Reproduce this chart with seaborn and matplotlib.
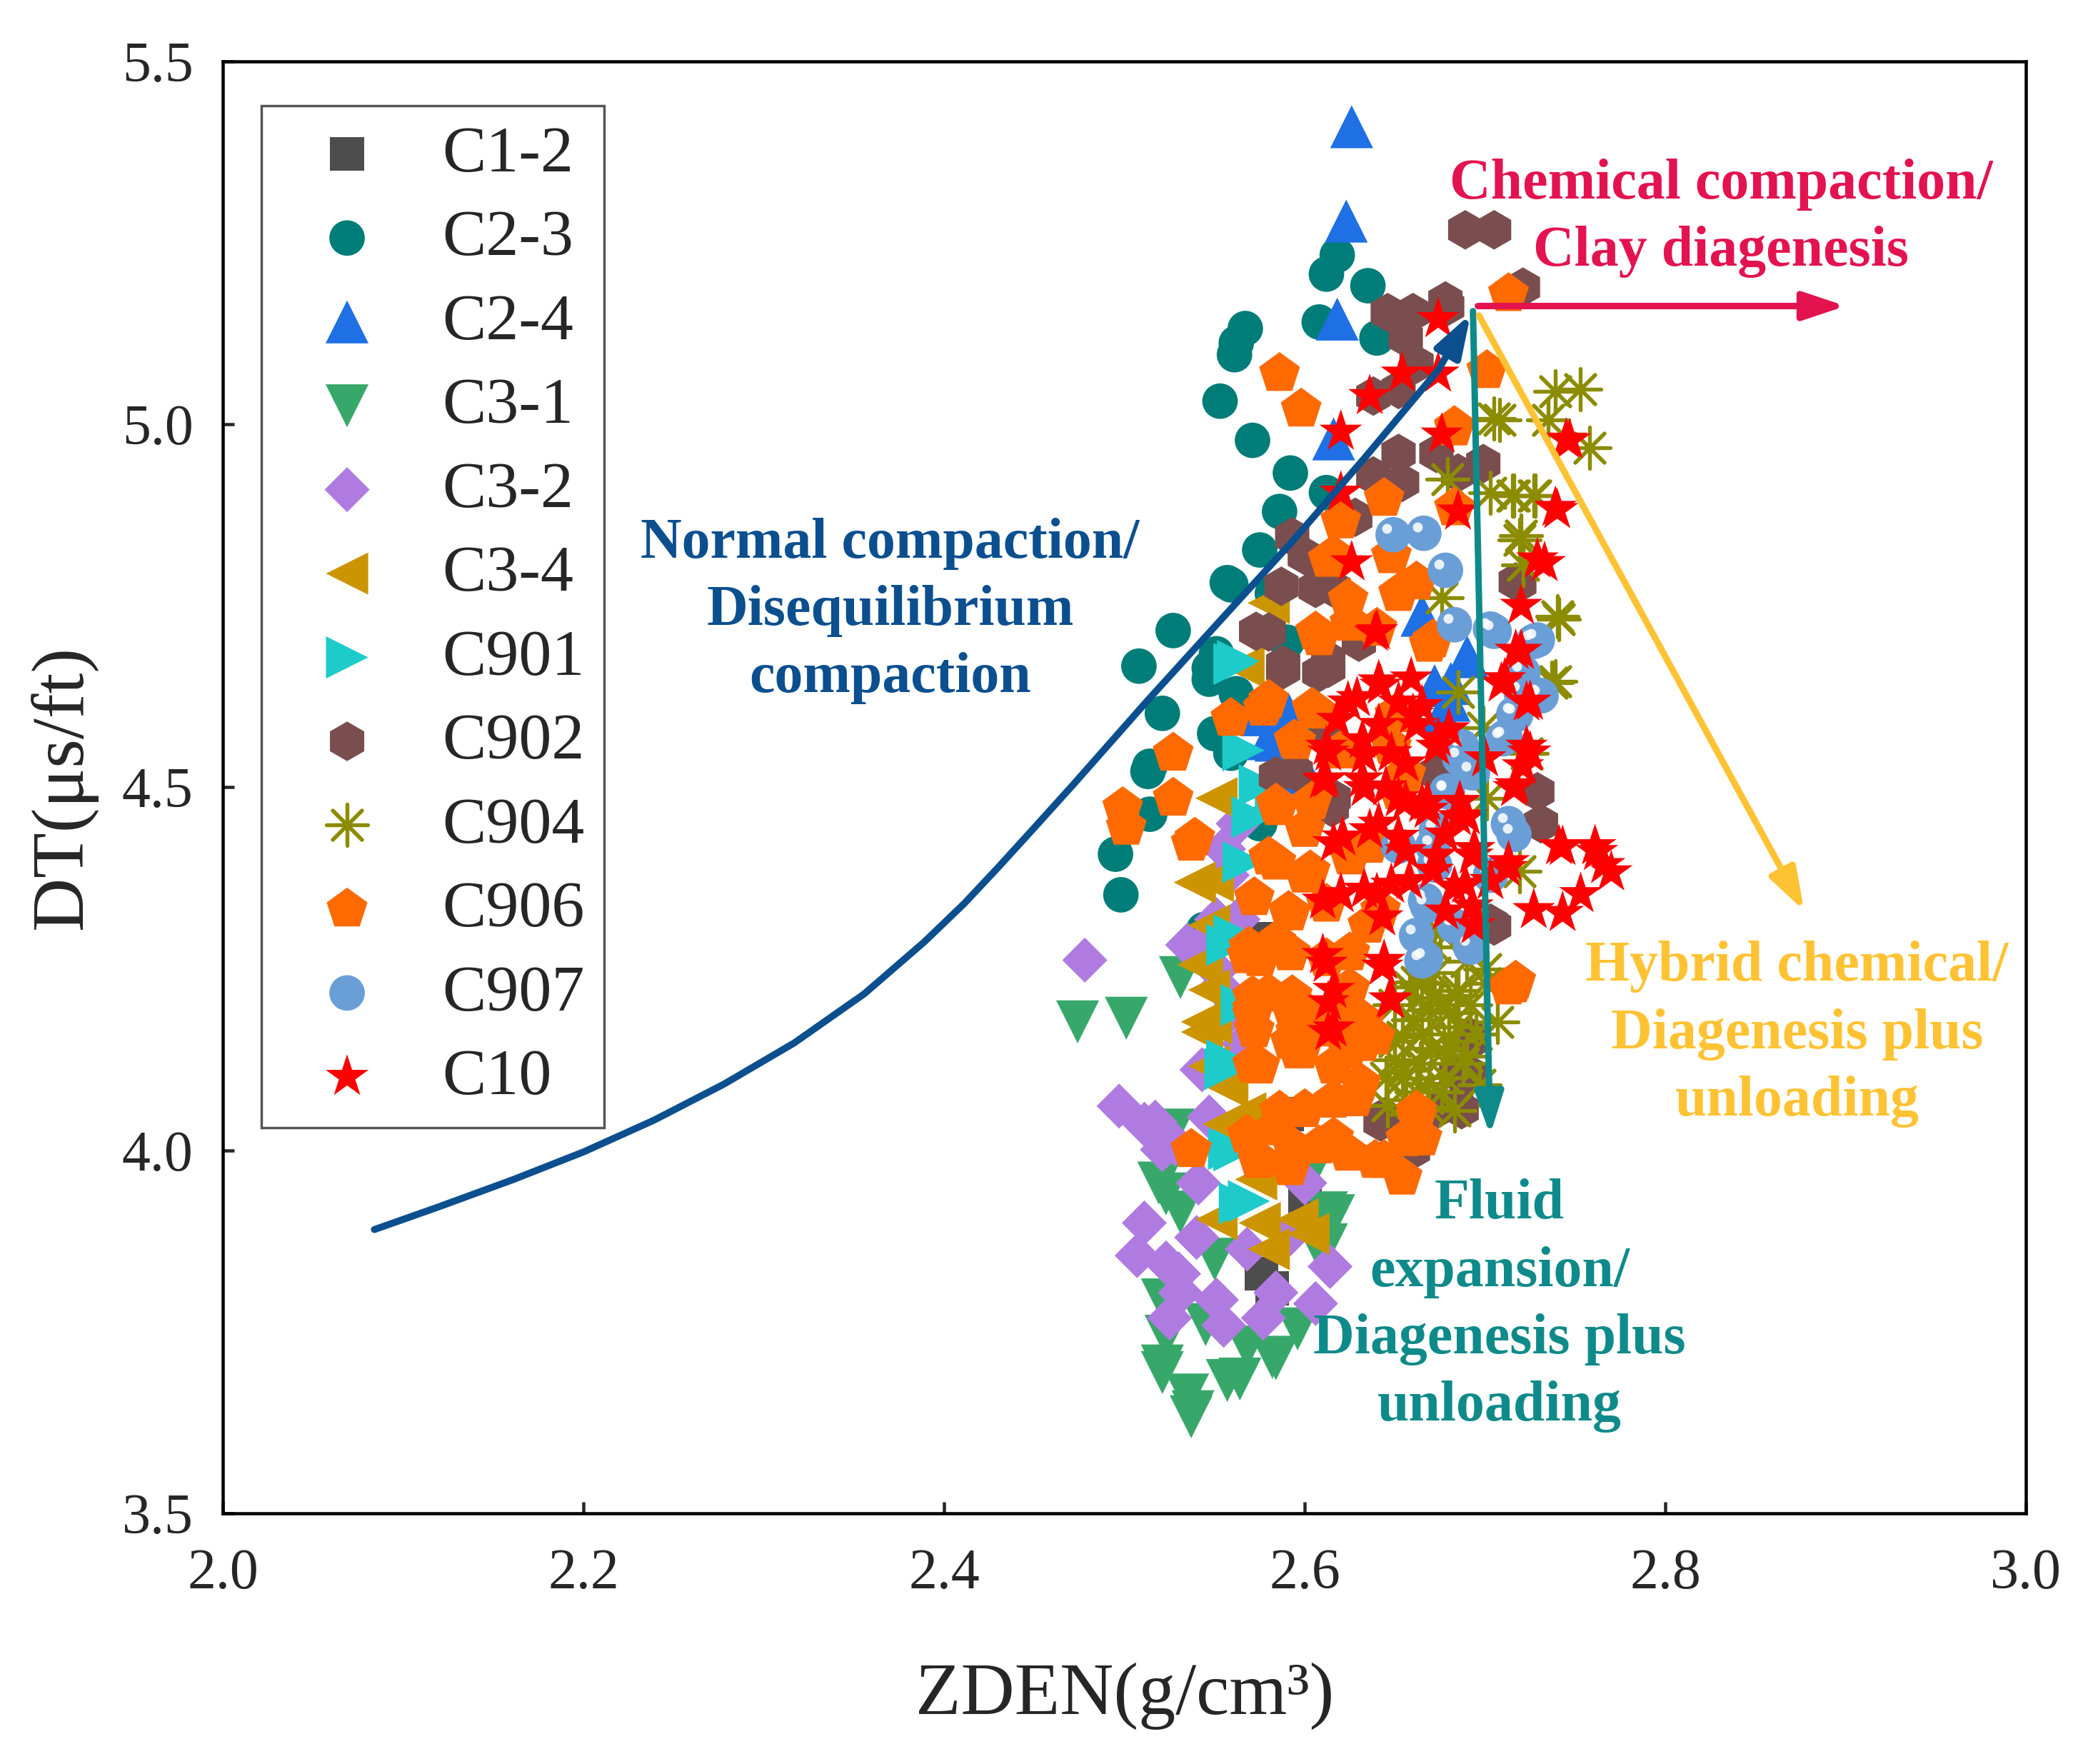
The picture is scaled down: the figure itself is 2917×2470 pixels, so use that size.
import matplotlib
matplotlib.use("Agg")
import matplotlib.pyplot as plt
from matplotlib.transforms import offset_copy
import seaborn as sns

# values (ZDEN g/cm3, DT us/ft)
wells = ["C1-2", "C2-3", "C2-4", "C3-1", "C3-2", "C3-4",
         "C901", "C902", "C904", "C906", "C907", "C10"]

c12_x = [2.582, 2.576, 2.600, 2.580, 2.590]
c12_y = [3.810, 3.830, 3.936, 4.291, 4.050]

c23_x = [2.618, 2.612, 2.635, 2.608, 2.640, 2.567, 2.562, 2.561, 2.553, 2.571, 2.592, 2.612,
         2.586, 2.575, 2.559, 2.557, 2.527, 2.508, 2.547, 2.521, 2.550, 2.513, 2.514, 2.495,
         2.498, 2.544, 2.562, 2.514, 2.582, 2.551, 2.547, 2.559, 2.545, 2.600, 2.590, 2.575]
c23_y = [5.233, 5.207, 5.191, 5.141, 5.119, 5.132, 5.112, 5.096, 5.032, 4.978, 4.933, 4.906,
         4.880, 4.827, 4.779, 4.782, 4.716, 4.667, 4.664, 4.602, 4.574, 4.522, 4.463, 4.408,
         4.352, 4.304, 4.629, 4.529, 4.767, 4.684, 4.649, 4.547, 4.304, 4.600, 4.700, 4.450]

c24_x = [2.626, 2.623, 2.618, 2.616, 2.584, 2.576, 2.672, 2.680, 2.676, 2.690, 2.600,
         2.681, 2.580, 2.591, 2.665]
c24_y = [5.410, 5.280, 5.145, 4.980, 4.565, 4.600, 4.640, 4.620, 4.600, 4.680, 4.520,
         4.643, 4.567, 4.601, 4.737]

c31_x = [2.474, 2.501, 2.531, 2.523, 2.521, 2.535, 2.537, 2.557, 2.584, 2.568, 2.596, 2.608,
         2.616, 2.519, 2.531, 2.521, 2.538, 2.564, 2.582, 2.521, 2.523, 2.612, 2.612, 2.600,
         2.527, 2.545, 2.550]
c31_y = [4.177, 4.182, 4.238, 3.744, 3.703, 3.663, 3.633, 3.683, 3.713, 3.729, 3.754, 3.864,
         3.910, 3.955, 3.915, 3.794, 3.640, 3.685, 3.715, 3.694, 3.940, 3.870, 3.914, 3.953,
         4.028, 3.760, 3.850]

c32_x = [2.478, 2.535, 2.543, 2.547, 2.497, 2.511, 2.521, 2.511, 2.507, 2.523, 2.531, 2.525,
         2.551, 2.555, 2.577, 2.584, 2.614, 2.606, 2.568, 2.551, 2.566, 2.557, 2.592, 2.541,
         2.600, 2.551, 2.563, 2.555, 2.557, 2.541, 2.563, 2.553, 2.540, 2.530, 2.517, 2.528]
c32_y = [4.262, 4.283, 4.111, 4.046, 4.061, 4.036, 4.001, 3.900, 3.855, 3.845, 3.804, 3.769,
         3.794, 3.759, 3.769, 3.804, 3.840, 3.789, 3.864, 4.318, 4.147, 4.187, 3.885, 3.955,
         3.955, 4.248, 4.450, 4.415, 4.379, 4.278, 4.318, 4.225, 3.880, 3.830, 4.039, 4.009]

c34_x = [2.580, 2.551, 2.549, 2.541, 2.547, 2.543, 2.566, 2.539, 2.543, 2.543, 2.547, 2.557,
         2.555, 2.551, 2.575, 2.596, 2.580, 2.602, 2.573, 2.567, 2.547, 2.548]
c34_y = [4.754, 4.485, 4.371, 4.256, 4.221, 4.163, 4.666, 4.369, 4.257, 4.177, 4.116, 4.087,
         4.036, 3.905, 3.900, 3.905, 3.864, 3.885, 3.960, 4.051, 4.310, 4.175]

c901_x = [2.561, 2.566, 2.575, 2.566, 2.571, 2.561, 2.557, 2.557, 2.557, 2.561, 2.569, 2.556,
          2.564, 2.558, 2.584, 2.565, 2.563]
c901_y = [4.670, 4.551, 4.503, 4.397, 4.459, 4.296, 4.124, 4.283, 4.116, 4.000, 3.930, 4.112,
          3.927, 4.002, 4.484, 4.200, 4.674]

c902_x = [2.689, 2.705, 2.646, 2.660, 2.679, 2.721, 2.656, 2.662, 2.652, 2.638, 2.652, 2.673,
          2.685, 2.638, 2.628, 2.699, 2.600, 2.717, 2.616, 2.573, 2.588, 2.608, 2.584, 2.616,
          2.719, 2.729, 2.731, 2.705, 2.673, 2.691, 2.687, 2.673, 2.644, 2.703, 2.693, 2.587,
          2.595, 2.613, 2.650, 2.630, 2.660, 2.684, 2.684, 2.662, 2.642, 2.692, 2.580, 2.588,
          2.613, 2.615, 2.731, 2.678, 2.654, 2.593, 2.606, 2.613]
c902_y = [5.268, 5.268, 5.154, 5.154, 5.162, 5.189, 5.119, 5.083, 5.048, 5.039, 4.960, 4.960,
          4.933, 4.929, 4.872, 4.946, 4.819, 4.783, 4.774, 4.715, 4.662, 4.658, 4.516, 4.485,
          4.781, 4.494, 4.450, 4.309, 4.520, 4.106, 4.056, 4.056, 4.046, 4.313, 4.152, 4.777,
          4.521, 4.576, 4.600, 4.700, 4.000, 4.107, 4.062, 4.039, 4.039, 4.156, 4.714, 4.669,
          4.676, 4.472, 4.450, 5.170, 4.920, 4.845, 4.774, 4.664]

c904_x = [2.739, 2.753, 2.758, 2.735, 2.708, 2.716, 2.728, 2.720, 2.740, 2.739, 2.705, 2.679,
          2.703, 2.727, 2.715, 2.719, 2.721, 2.676, 2.741, 2.737, 2.699, 2.685, 2.723, 2.719,
          2.701, 2.707, 2.665, 2.675, 2.660, 2.685, 2.650, 2.670, 2.690, 2.655, 2.678, 2.662,
          2.645, 2.668, 2.685, 2.700, 2.672, 2.690, 2.654, 2.669, 2.677, 2.654, 2.669, 2.684,
          2.662, 2.646, 2.650, 2.658, 2.672, 2.680, 2.692, 2.695, 2.688, 2.676, 2.660, 2.650,
          2.665, 2.683, 2.697, 2.670, 2.656, 2.700, 2.690, 2.675, 2.664, 2.680]
c904_y = [5.045, 5.048, 4.968, 5.006, 5.006, 4.902, 4.902, 4.847, 4.736, 4.646, 5.008, 4.924,
          4.906, 4.902, 4.902, 4.841, 4.806, 4.761, 4.732, 4.644, 4.582, 4.631, 4.547, 4.384,
          4.485, 4.177, 4.230, 4.200, 4.180, 4.170, 4.150, 4.140, 4.130, 4.110, 4.100, 4.080,
          4.100, 4.060, 4.220, 4.250, 4.280, 4.310, 4.156, 4.194, 4.137, 4.099, 4.092, 4.213,
          4.232, 4.062, 4.200, 4.225, 4.245, 4.190, 4.200, 4.160, 4.120, 4.080, 4.050, 4.125,
          4.160, 4.055, 4.090, 4.210, 4.070, 4.230, 4.260, 4.300, 4.120, 4.150]

c906_x = [2.713, 2.701, 2.683, 2.586, 2.598, 2.620, 2.644, 2.616, 2.662, 2.683, 2.648, 2.624,
          2.652, 2.608, 2.640, 2.669, 2.577, 2.559, 2.604, 2.594, 2.527, 2.527, 2.499, 2.501,
          2.537, 2.584, 2.584, 2.600, 2.652, 2.592, 2.575, 2.571, 2.612, 2.622, 2.632, 2.592,
          2.642, 2.713, 2.568, 2.571, 2.575, 2.592, 2.596, 2.612, 2.600, 2.584, 2.568, 2.537,
          2.575, 2.592, 2.608, 2.624, 2.644, 2.656, 2.662, 2.628, 2.616, 2.632, 2.717, 2.584,
          2.612, 2.539, 2.580, 2.613, 2.683, 2.716, 2.620, 2.636, 2.604, 2.650,
          2.606, 2.625, 2.671, 2.578, 2.595, 2.606, 2.585, 2.600, 2.580, 2.572, 2.591, 2.603,
          2.625, 2.635, 2.569, 2.592, 2.625, 2.580, 2.598, 2.625, 2.572, 2.595, 2.633, 2.656,
          2.648, 2.571, 2.593, 2.571, 2.598, 2.624, 2.639, 2.586, 2.616, 2.631, 2.537, 2.574,
          2.593, 2.616, 2.639, 2.654, 2.665, 2.662, 2.715, 2.605, 2.624]
c906_y = [5.180, 5.074, 4.995, 5.070, 5.021, 4.867, 4.898, 4.819, 4.783, 4.885, 4.819, 4.759,
          4.767, 4.706, 4.719, 4.697, 4.609, 4.595, 4.609, 4.565, 4.547, 4.485, 4.472, 4.445,
          4.423, 4.477, 4.397, 4.379, 4.494, 4.327, 4.264, 4.212, 4.264, 4.194, 4.159, 4.150,
          4.331, 4.225, 4.268, 4.187, 4.116, 4.197, 4.137, 4.167, 4.056, 4.031, 4.021, 4.001,
          3.986, 3.976, 4.006, 3.996, 3.986, 4.016, 4.046, 4.071, 4.116, 4.147, 4.233, 4.288,
          4.339, 4.430, 4.620, 4.814, 4.997, 4.228, 4.550, 4.420, 4.480, 4.600,
          4.714, 4.726, 4.703, 4.612, 4.563, 4.605, 4.472, 4.442, 4.404, 4.348, 4.329, 4.385,
          4.404, 4.310, 4.280, 4.272, 4.272, 4.215, 4.196, 4.223, 4.166, 4.163, 4.178, 4.518,
          4.556, 4.194, 4.213, 4.118, 4.137, 4.137, 4.156, 4.054, 4.069, 4.092, 4.001, 3.986,
          4.005, 4.017, 3.986, 3.963, 4.017, 4.054, 4.228, 4.175, 4.194]

c907_x = [2.649, 2.666, 2.678, 2.683, 2.705, 2.727, 2.731, 2.717, 2.711, 2.687, 2.679, 2.693,
          2.713, 2.673, 2.652, 2.667, 2.662, 2.667, 2.683, 2.703, 2.720, 2.672,
          2.703, 2.729, 2.721, 2.730, 2.716, 2.710, 2.686, 2.679, 2.671, 2.668, 2.665, 2.716,
          2.692]
c907_y = [4.848, 4.850, 4.799, 4.724, 4.715, 4.701, 4.626, 4.600, 4.569, 4.556, 4.494, 4.520,
          4.450, 4.441, 4.419, 4.344, 4.296, 4.264, 4.309, 4.379, 4.631, 4.393,
          4.718, 4.703, 4.658, 4.627, 4.601, 4.567, 4.540, 4.495, 4.419, 4.337, 4.261, 4.435,
          4.280]

c10_x = [2.674, 2.654, 2.636, 2.674, 2.620, 2.676, 2.747, 2.620, 2.685, 2.739, 2.626, 2.729,
         2.745, 2.740, 2.733, 2.720, 2.720, 2.725, 2.725, 2.743, 2.762, 2.770, 2.640, 2.717,
         2.711, 2.723, 2.723, 2.624, 2.642, 2.652, 2.662, 2.612, 2.632, 2.648, 2.673, 2.612,
         2.632, 2.652, 2.665, 2.685, 2.717, 2.721, 2.636, 2.652, 2.673, 2.693, 2.713, 2.616,
         2.658, 2.683, 2.693, 2.703, 2.741, 2.761, 2.766, 2.753, 2.727, 2.743, 2.620, 2.640,
         2.610, 2.644, 2.616, 2.648, 2.616, 2.639, 2.660, 2.680, 2.700, 2.645, 2.668, 2.690,
         2.641, 2.659, 2.629, 2.665, 2.618, 2.641, 2.674, 2.613, 2.633, 2.656, 2.610, 2.633,
         2.656, 2.668, 2.686, 2.641, 2.678, 2.656, 2.694, 2.671, 2.689, 2.648, 2.678, 2.694,
         2.716, 2.712, 2.724, 2.709, 2.621, 2.610, 2.633, 2.643, 2.612, 2.643, 2.613, 2.647,
         2.613]
c10_y = [5.145, 5.070, 5.039, 5.070, 4.990, 4.986, 4.978, 4.906, 4.880, 4.885, 4.810, 4.814,
         4.979, 4.882, 4.809, 4.750, 4.688, 4.618, 4.548, 4.418, 4.411, 4.383, 4.715, 4.688,
         4.649, 4.617, 4.556, 4.617, 4.640, 4.617, 4.586, 4.556, 4.565, 4.547, 4.556, 4.511,
         4.511, 4.485, 4.477, 4.459, 4.503, 4.529, 4.441, 4.432, 4.406, 4.406, 4.397, 4.423,
         4.371, 4.362, 4.336, 4.371, 4.419, 4.419, 4.393, 4.353, 4.331, 4.327, 4.353, 4.353,
         4.269, 4.261, 4.221, 4.207, 4.168, 4.713, 4.600, 4.580, 4.540, 4.500, 4.480, 4.460,
         4.646, 4.650, 4.623, 4.612, 4.593, 4.586, 4.567, 4.548, 4.544, 4.533, 4.510, 4.499,
         4.480, 4.469, 4.480, 4.450, 4.435, 4.412, 4.415, 4.385, 4.366, 4.366, 4.329, 4.310,
         4.499, 4.389, 4.548, 4.643, 4.431, 4.344, 4.359, 4.321, 4.257, 4.253, 4.204, 4.208,
         4.163]

# normal compaction trend line (last point is the arrow tip)
trend_x = [2.0839, 2.1194, 2.1611, 2.2000, 2.2389, 2.2778, 2.3167, 2.3556, 2.3889,
           2.4111, 2.4300, 2.4500, 2.4720, 2.5124, 2.5528, 2.5932, 2.6336, 2.6741, 2.6920]
trend_y = [3.8909, 3.9220, 3.9599, 3.9979, 4.0414, 4.0912, 4.1478, 4.2155, 4.2870,
           4.3400, 4.3900, 4.4445, 4.5050, 4.6186, 4.7290, 4.8390, 4.9550, 5.0752, 5.1520]

# other mechanism arrows: (start x, start y, end x, end y)
chem_arrow = (2.6960, 5.163, 2.900, 5.163)
fluid_arrow = (2.6933, 5.156, 2.7028, 4.021)
hybrid_arrow = (2.6966, 5.150, 2.877, 4.330)

series = {
    "C1-2": (c12_x, c12_y), "C2-3": (c23_x, c23_y), "C2-4": (c24_x, c24_y),
    "C3-1": (c31_x, c31_y), "C3-2": (c32_x, c32_y), "C3-4": (c34_x, c34_y),
    "C901": (c901_x, c901_y), "C902": (c902_x, c902_y), "C904": (c904_x, c904_y),
    "C906": (c906_x, c906_y), "C907": (c907_x, c907_y), "C10": (c10_x, c10_y),
}

# marker, colour, size (pt^2)
styles = {
    "C1-2": ("s", "#4d4d4d", 185),
    "C2-3": ("o", "#007d78", 205),
    "C2-4": ("^", "#1f6fe5", 300),
    "C3-1": ("v", "#38a86a", 300),
    "C3-2": ("D", "#b07be0", 165),
    "C3-4": ("<", "#cc9500", 290),
    "C901": (">", "#1ecbcb", 290),
    "C902": ("h", "#7a4e4e", 255),
    "C904": ((8, 2, 0), "#8c8c00", 275),
    "C906": ("p", "#ff6a00", 300),
    "C907": ("o", "#6a9ed6", 205),
    "C10": ("*", "#ff0000", 330),
}

sns.set_style("ticks")
plt.rcParams["font.family"] = ["Liberation Serif", "DejaVu Serif"]

fig = plt.figure(figsize=(2917 / 250, 2470 / 250), dpi=250)
ax = fig.add_axes([0.1071, 0.1421, 0.8655, 0.8231])

for i, name in enumerate(wells):
    xs, ys = series[name]
    mk, col, size = styles[name]
    z = 3 + i * 0.1
    if name == "C904":
        sns.scatterplot(x=xs, y=ys, marker=mk, s=size, color=col, edgecolor=col,
                        linewidth=1.5, label=name, ax=ax, zorder=z)
    else:
        sns.scatterplot(x=xs, y=ys, marker=mk, s=size, color=col, edgecolor="none",
                        linewidth=0, label=name, ax=ax, zorder=z)
    if name == "C907":
        # small highlight to give the balls a glossy look
        shine = offset_copy(ax.transData, fig=fig, x=-2.5, y=2.5, units="points")
        ax.scatter(xs, ys, s=16, color="white", alpha=0.85, linewidth=0,
                   transform=shine, zorder=z + 0.05)

# trend line and arrows
blue = "#0b4f8f"
crimson = "#e3134f"
teal = "#0f8a8a"
gold = "#ffc233"
head = "-|>,head_length=0.45,head_width=0.15"

sns.lineplot(x=trend_x[:-1], y=trend_y[:-1], sort=False, color=blue, linewidth=2.8,
             ax=ax, zorder=5)
ax.annotate("", xy=(trend_x[-1], trend_y[-1]), xytext=(trend_x[-2], trend_y[-2]),
            arrowprops=dict(arrowstyle=head, mutation_scale=32, color=blue, lw=2.8,
                            shrinkA=0, shrinkB=0), zorder=5)
for (x0, y0, x1, y1), col in [(chem_arrow, crimson), (fluid_arrow, teal),
                              (hybrid_arrow, gold)]:
    ax.annotate("", xy=(x1, y1), xytext=(x0, y0),
                arrowprops=dict(arrowstyle=head, mutation_scale=32, color=col, lw=2.6,
                                shrinkA=0, shrinkB=0), zorder=5)

txt = dict(fontsize=23, fontweight="bold", ha="center", va="center",
           multialignment="center", linespacing=1.38, zorder=6)
ax.text(2.370, 4.743, "Normal compaction/\nDisequilibrium\ncompaction", color=blue, **txt)
ax.text(2.831, 5.284, "Chemical compaction/\nClay diagenesis", color=crimson, **txt)
ax.text(2.873, 4.160, "Hybrid chemical/\nDiagenesis plus\nunloading", color=gold, **txt)
ax.text(2.708, 3.786, "Fluid\nexpansion/\nDiagenesis plus\nunloading", color=teal, **txt)

ax.set_xlim(2.0, 3.0)
ax.set_ylim(3.5, 5.5)
ax.set_xticks([2.0, 2.2, 2.4, 2.6, 2.8, 3.0])
ax.set_yticks([3.5, 4.0, 4.5, 5.0, 5.5])
ax.set_xticklabels(["2.0", "2.2", "2.4", "2.6", "2.8", "3.0"])
ax.set_yticklabels(["3.5", "4.0", "4.5", "5.0", "5.5"])
ax.tick_params(axis="both", direction="in", length=4.5, width=1.3, labelsize=23)
ax.tick_params(axis="x", pad=14)
ax.tick_params(axis="y", pad=12)
for sp in ax.spines.values():
    sp.set_visible(True)
    sp.set_linewidth(1.3)
    sp.set_color("black")

ax.set_xlabel("ZDEN(g/cm³)", fontsize=30, labelpad=25)
ax.set_ylabel("DT(μs/ft)", fontsize=30, labelpad=10)

leg = ax.legend(loc="upper left", bbox_to_anchor=(0.0214, 0.9695), borderaxespad=0,
                fontsize=26.5, frameon=True, fancybox=False, framealpha=1,
                edgecolor="#555555", handlelength=2.0, handletextpad=0.45,
                borderpad=0.3, labelspacing=0.37, scatterpoints=1)
leg.get_frame().set_linewidth(1.0)
leg.set_zorder(10)

fig.savefig("out.png", dpi=250)
